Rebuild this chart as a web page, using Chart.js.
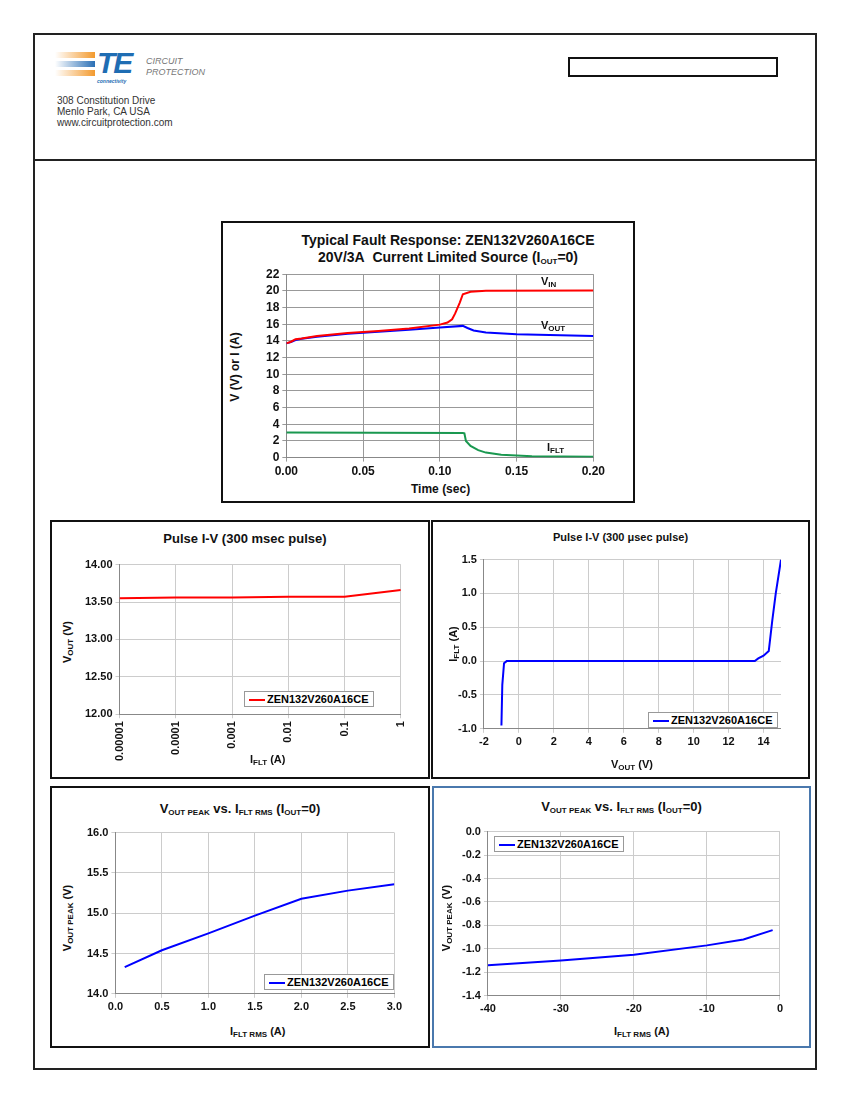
<!DOCTYPE html>
<html>
<head>
<meta charset="utf-8">
<script src="https://cdn.jsdelivr.net/npm/chart.js@4"></script>
<style>
  body { margin: 0; background: #fff; font-family: "Liberation Sans", Arial, sans-serif; }
  .page { position: absolute; left: 33px; top: 33px; width: 780px; height: 1033px; border: 2px solid #222; }
  .hline { position: absolute; left: 33px; top: 159px; width: 782px; height: 2px; background: #222; }
  .box { position: absolute; border: 2px solid #111; background: #fff; }
  .box canvas { position: absolute; }
  .ttl { position: absolute; left: 0; right: 0; text-align: center; font-weight: bold; font-size: 13px; color: #111; }
  .lbl { position: absolute; font-weight: bold; font-size: 11px; color: #111; white-space: nowrap; }
  .ylbl { position: absolute; font-weight: bold; font-size: 11px; color: #111; white-space: nowrap; transform: translate(-50%, -50%) rotate(-90deg); }
  sub { font-size: 8px; vertical-align: -2px; }
  .leg { position: absolute; border: 1px solid #999; background: #fff; font-weight: bold; font-size: 11px; padding: 1px 4px; white-space: nowrap; }
  .leg i { display: inline-block; width: 16px; height: 2px; vertical-align: middle; margin-right: 2px; }
</style>
</head>
<body>
<div class="page"></div>
<div class="hline"></div>

<!-- header -->
<div style="position:absolute;left:55px;top:52px;width:40px;height:6px;background:linear-gradient(90deg,#fff,#f39a2e)"></div>
<div style="position:absolute;left:55px;top:61px;width:40px;height:6px;background:linear-gradient(90deg,#fff,#2a6fb5)"></div>
<div style="position:absolute;left:55px;top:70px;width:40px;height:6px;background:linear-gradient(90deg,#fff,#f39a2e)"></div>
<div style="position:absolute;left:97px;top:46px;font:italic bold 30px 'Liberation Sans';color:#1f6db3;letter-spacing:-2px">TE</div>
<div style="position:absolute;left:97px;top:78px;font:italic bold 5px 'Liberation Sans';color:#1f6db3">connectivity</div>
<div style="position:absolute;left:146px;top:56px;font:italic 9px 'Liberation Sans';color:#777;line-height:11px">CIRCUIT<br>PROTECTION</div>
<div style="position:absolute;left:57px;top:95px;font:10px 'Liberation Sans';color:#333;line-height:11px">308 Constitution Drive<br>Menlo Park, CA USA<br>www.circuitprotection.com</div>
<div style="position:absolute;left:568px;top:57px;width:206px;height:16px;border:2px solid #111"></div>

<!-- A -->
<div class="box" style="left:221px;top:221px;width:410px;height:278px">
  <div class="ttl" style="top:9px;left:40px;font-size:14px;line-height:17px">Typical Fault Response: ZEN132V260A16CE<br>20V/3A&nbsp; Current Limited Source (I<sub>OUT</sub>=0)</div>
  <canvas id="cA" style="left:40px;top:41px" width="345" height="218"></canvas>
  <div class="ylbl" style="left:12px;top:144px;font-size:12px">V (V) or I (A)</div>
  <div class="lbl" style="left:188px;top:259px;font-size:12px">Time (sec)</div>
  <div class="lbl" style="left:318px;top:52px">V<sub>IN</sub></div>
  <div class="lbl" style="left:318px;top:96px">V<sub>OUT</sub></div>
  <div class="lbl" style="left:324px;top:218px">I<sub>FLT</sub></div>
</div>

<!-- B -->
<div class="box" style="left:50px;top:520px;width:376px;height:255px">
  <div class="ttl" style="top:9px;left:10px">Pulse I-V (300 msec pulse)</div>
  <canvas id="cB" style="left:30px;top:33px" width="335" height="209"></canvas>
  <div class="ylbl" style="left:16px;top:120px">V<sub>OUT</sub> (V)</div>
  <div class="lbl" style="left:198px;top:231px">I<sub>FLT</sub> (A)</div>
  <div class="leg" style="left:192px;top:169px"><i style="background:#f00"></i>ZEN132V260A16CE</div>
</div>

<!-- C -->
<div class="box" style="left:431px;top:520px;width:375px;height:255px">
  <div class="ttl" style="top:9px;font-size:11px">Pulse I-V (300 &mu;sec pulse)</div>
  <canvas id="cC" style="left:22px;top:28px" width="326" height="202"></canvas>
  <div class="ylbl" style="left:21px;top:122px">I<sub>FLT</sub> (A)</div>
  <div class="lbl" style="left:178px;top:236px">V<sub>OUT</sub> (V)</div>
  <div class="leg" style="left:215px;top:190px"><i style="background:#00f"></i>ZEN132V260A16CE</div>
</div>

<!-- D -->
<div class="box" style="left:50px;top:786px;width:376px;height:258px">
  <div class="ttl" style="top:13px">V<sub>OUT PEAK</sub> vs. I<sub>FLT RMS</sub> (I<sub>OUT</sub>=0)</div>
  <canvas id="cD" style="left:32px;top:35px" width="321" height="194"></canvas>
  <div class="ylbl" style="left:16px;top:130px">V<sub>OUT PEAK</sub> (V)</div>
  <div class="lbl" style="left:178px;top:237px">I<sub>FLT RMS</sub> (A)</div>
  <div class="leg" style="left:212px;top:186px"><i style="background:#00f"></i>ZEN132V260A16CE</div>
</div>

<!-- E -->
<div class="box" style="left:432px;top:786px;width:375px;height:258px;border-color:#4a78ad">
  <div class="ttl" style="top:11px">V<sub>OUT PEAK</sub> vs. I<sub>FLT RMS</sub> (I<sub>OUT</sub>=0)</div>
  <canvas id="cE" style="left:25px;top:34px" width="327" height="197"></canvas>
  <div class="ylbl" style="left:13px;top:130px">V<sub>OUT PEAK</sub> (V)</div>
  <div class="lbl" style="left:180px;top:237px">I<sub>FLT RMS</sub> (A)</div>
  <div class="leg" style="left:60px;top:48px"><i style="background:#00f"></i>ZEN132V260A16CE</div>
</div>

<script>
// Fault response (time in sec)
const vinT   = [0, 0.003, 0.006, 0.01, 0.02, 0.04, 0.06, 0.08, 0.1, 0.105, 0.108, 0.11, 0.113, 0.115, 0.12, 0.13, 0.2];
const vinV   = [13.7, 13.9, 14.2, 14.3, 14.6, 14.95, 15.2, 15.5, 15.95, 16.2, 16.6, 17.3, 18.6, 19.6, 19.9, 20.0, 20.05];
const voutT  = [0, 0.003, 0.006, 0.01, 0.02, 0.04, 0.06, 0.08, 0.1, 0.115, 0.118, 0.122, 0.13, 0.15, 0.2];
const voutV  = [13.7, 13.85, 14.1, 14.25, 14.5, 14.85, 15.1, 15.35, 15.6, 15.8, 15.55, 15.25, 15.0, 14.8, 14.6];
const ifltT  = [0, 0.115, 0.116, 0.117, 0.12, 0.125, 0.13, 0.14, 0.16, 0.2];
const ifltA  = [3.0, 2.95, 2.9, 2.0, 1.4, 0.9, 0.6, 0.35, 0.15, 0.1];

// Pulse I-V 300 msec
const msecI = [0.00001, 0.0001, 0.001, 0.01, 0.1, 1];
const msecV = [13.55, 13.56, 13.56, 13.57, 13.57, 13.66];

// Pulse I-V 300 usec
const usecV = [-1.0, -0.95, -0.85, -0.7, 13.5, 13.7, 14.0, 14.3, 14.5, 14.7, 15.0];
const usecI = [-0.95, -0.35, -0.03, 0, 0, 0.04, 0.08, 0.15, 0.6, 1.0, 1.5];

// Vout peak vs Iflt rms, positive
const posI = [0.1, 0.5, 1.0, 1.5, 2.0, 2.5, 3.0];
const posV = [14.33, 14.54, 14.75, 14.97, 15.18, 15.28, 15.36];

// negative
const negI = [-40, -30, -20, -10, -5, -1];
const negV = [-1.14, -1.10, -1.05, -0.97, -0.92, -0.84];

const pts = (xs, ys) => xs.map((x, i) => ({ x: x, y: ys[i] }));
const tickFont = { family: 'Liberation Sans', weight: 'bold', size: 11 };

function line(data, color) {
  return { data: data, borderColor: color, borderWidth: 2, pointRadius: 0, tension: 0 };
}

function makeChart(id, datasets, xOpts, yOpts, gridColor) {
  const base = {
    grid: { color: gridColor, drawTicks: true, tickLength: 4 },
    border: { color: '#888' },
    ticks: { font: tickFont, color: '#111', autoSkip: false }
  };
  new Chart(document.getElementById(id), {
    type: 'scatter',
    data: { datasets: datasets.map(d => Object.assign({ showLine: true }, d)) },
    options: {
      responsive: false,
      animation: false,
      plugins: { legend: { display: false }, tooltip: { enabled: false } },
      scales: {
        x: Object.assign({}, base, xOpts, { ticks: Object.assign({}, base.ticks, xOpts.ticks || {}) }),
        y: Object.assign({}, base, yOpts, { ticks: Object.assign({}, base.ticks, yOpts.ticks || {}) })
      }
    }
  });
}

makeChart('cA',
  [line(pts(vinT, vinV), '#f00'), line(pts(voutT, voutV), '#00f'), line(pts(ifltT, ifltA), '#1a9850')],
  { min: 0, max: 0.2, ticks: { stepSize: 0.05, callback: v => v.toFixed(2), font: { family: 'Liberation Sans', weight: 'bold', size: 12 } } },
  { min: 0, max: 22, ticks: { stepSize: 2, font: { family: 'Liberation Sans', weight: 'bold', size: 12 } } },
  '#999');

makeChart('cB',
  [line(pts(msecI, msecV), '#f00')],
  { type: 'logarithmic', min: 0.00001, max: 1,
    afterBuildTicks: s => { s.ticks = msecI.map(v => ({ value: v })); },
    ticks: { minRotation: 90, maxRotation: 90, callback: v => String(+v.toPrecision(1)) } },
  { min: 12, max: 14, ticks: { stepSize: 0.5, callback: v => v.toFixed(2) } },
  '#ccc');

makeChart('cC',
  [line(pts(usecV, usecI), '#00f')],
  { min: -2, max: 15, ticks: { stepSize: 2 },
    afterBuildTicks: s => { s.ticks = [-2, 0, 2, 4, 6, 8, 10, 12, 14].map(v => ({ value: v })); } },
  { min: -1, max: 1.5, ticks: { stepSize: 0.5, callback: v => v.toFixed(1) } },
  '#ccc');

makeChart('cD',
  [line(pts(posI, posV), '#00f')],
  { min: 0, max: 3, ticks: { stepSize: 0.5, callback: v => v.toFixed(1) } },
  { min: 14, max: 16, ticks: { stepSize: 0.5, callback: v => v.toFixed(1) } },
  '#ccc');

makeChart('cE',
  [line(pts(negI, negV), '#00f')],
  { min: -40, max: 0, ticks: { stepSize: 10 } },
  { min: -1.4, max: 0, ticks: { stepSize: 0.2, callback: v => v.toFixed(1) } },
  '#ccc');
</script>
</body>
</html>
